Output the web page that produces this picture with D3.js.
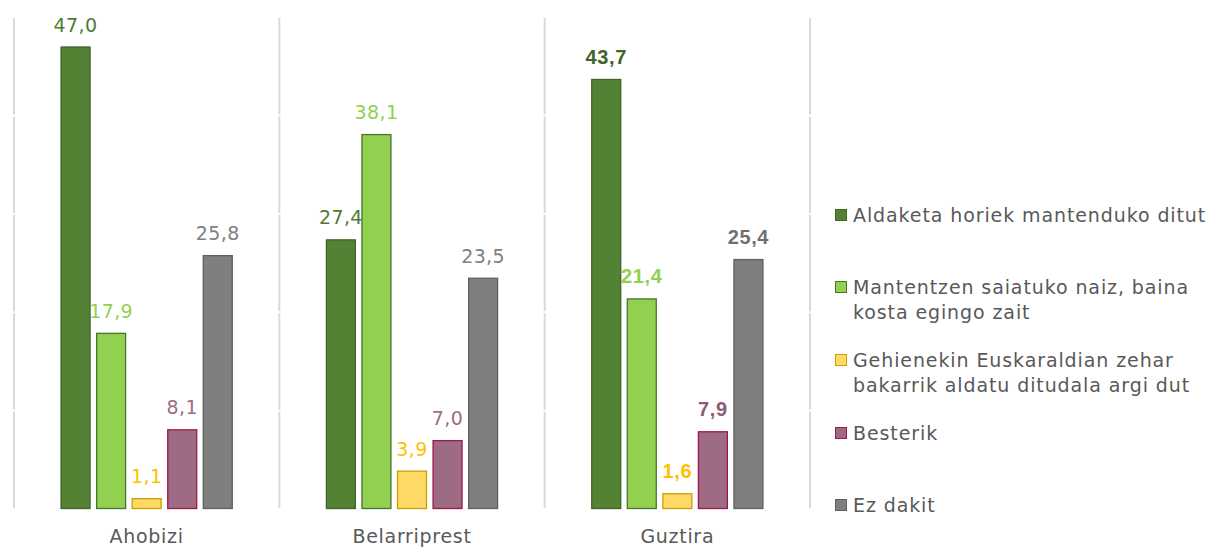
<!DOCTYPE html>
<html><head><meta charset="utf-8">
<script src="https://cdn.jsdelivr.net/npm/d3@7"></script>
<style>body{margin:0;background:#fff}svg{display:block}</style>
</head><body>
<svg id="c" width="1211" height="548"></svg>
<script>
const categories = ["Ahobizi", "Belarriprest", "Guztira"];
const seriesNames = [
  "Aldaketa horiek mantenduko ditut",
  "Mantentzen saiatuko naiz, baina kosta egingo zait",
  "Gehienekin Euskaraldian zehar bakarrik aldatu ditudala argi dut",
  "Besterik",
  "Ez dakit"
];
const legendLines = [
  ["Aldaketa horiek mantenduko ditut"],
  ["Mantentzen saiatuko naiz, baina", "kosta egingo zait"],
  ["Gehienekin Euskaraldian zehar", "bakarrik aldatu ditudala argi dut"],
  ["Besterik"],
  ["Ez dakit"]
];
const valAldaketa = [47.0, 27.4, 43.7];
const valMantentzen = [17.9, 38.1, 21.4];
const valGehienekin = [1.1, 3.9, 1.6];
const valBesterik = [8.1, 7.0, 7.9];
const valEzDakit = [25.8, 23.5, 25.4];
const seriesValues = [valAldaketa, valMantentzen, valGehienekin, valBesterik, valEzDakit];
const yTicks = [0, 10, 20, 30, 40, 50];

const fills = ["#548235", "#92d050", "#ffd966", "#9e6b84", "#7f7f7f"];
const strokes = ["#3f6428", "#4a7330", "#c9a000", "#a01848", "#5f5f5f"];
const labelColors = ["#4f7a34", "#92d050", "#ffc000", "#9e6b84", "#808080"];
const boldLabelColors = ["#3f6428", "#92d050", "#ffc000", "#8e5b74", "#707070"];

const svg = d3.select("#c");
const x0 = d3.scaleBand().domain(categories).range([14, 810]).padding(0);
const x1 = d3.scaleBand().domain(d3.range(seriesNames.length)).range([0, x0.bandwidth()])
  .paddingInner(0.157).paddingOuter(1.31);
const y = d3.scaleLinear().domain([0, 50]).range([509, 17]);

// separators with small breaks at tick positions
const sepBounds = categories.map(c => x0(c)).concat([x0.range()[1]]);
sepBounds.forEach(xx => {
  for (let i = 0; i < yTicks.length - 1; i++) {
    svg.append("line")
      .attr("x1", xx).attr("x2", xx)
      .attr("y1", y(yTicks[i]) - 1).attr("y2", y(yTicks[i + 1]) + 1)
      .attr("stroke", "#d9d9d9").attr("stroke-width", 2);
  }
});

const font = "'DejaVu Sans', sans-serif";

categories.forEach((cat, ci) => {
  const bold = cat === "Guztira";
  seriesValues.forEach((vals, si) => {
    const v = vals[ci];
    const bx = x0(cat) + x1(si);
    svg.append("rect")
      .attr("x", bx + 0.5).attr("y", y(v) + 0.5)
      .attr("width", x1.bandwidth() - 1).attr("height", y(0) - y(v) - 1)
      .attr("fill", fills[si]).attr("stroke", strokes[si]).attr("stroke-width", 1.3);
    svg.append("text")
      .attr("x", bx + x1.bandwidth() / 2).attr("y", y(v) - 15)
      .attr("text-anchor", "middle")
      .attr("font-family", bold ? "'Liberation Sans', Arial, sans-serif" : font)
      .attr("font-weight", bold ? "bold" : "normal")
      .attr("font-size", bold ? 20 : 19)
      .attr("letter-spacing", bold ? 0.6 : 0.4)
      .attr("fill", bold ? boldLabelColors[si] : labelColors[si])
      .text(d3.format(".1f")(v).replace(".", ","));
  });
  svg.append("text")
    .attr("x", x0(cat) + x0.bandwidth() / 2).attr("y", 543)
    .attr("text-anchor", "middle").attr("font-family", font).attr("font-size", 19)
    .attr("letter-spacing", 0.7)
    .attr("fill", "#595959").text(cat);
});

// legend
const legendY = [215, 287, 360, 433, 505];
legendLines.forEach((lines, i) => {
  const g = svg.append("g").attr("transform", `translate(835,${legendY[i]})`);
  g.append("rect").attr("x", 0.5).attr("y", -5.5).attr("width", 11).attr("height", 11)
    .attr("fill", fills[i]).attr("stroke", strokes[i]).attr("stroke-width", 1);
  lines.forEach((ln, j) => {
    g.append("text").attr("x", 18).attr("y", 7 + j * 25)
      .attr("font-family", font).attr("font-size", 19).attr("letter-spacing", 0.9)
      .attr("fill", "#595959").text(ln);
  });
});
</script>
</body></html>
